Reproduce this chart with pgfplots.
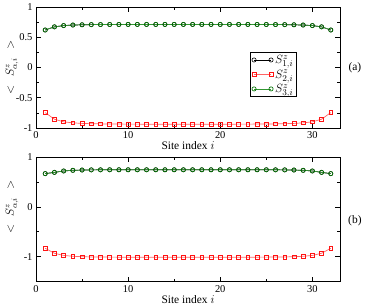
\documentclass[border=0pt]{standalone}
\usepackage{pgfplots}
\pgfplotsset{compat=1.18}
\usepackage{pgfplotstable}
\usepackage{fontspec}
\setmainfont{Liberation Serif}

\definecolor{myred}{RGB}{255,20,20}
\definecolor{mylred}{RGB}{255,100,100}
\definecolor{mygreen}{RGB}{0,115,0}
\definecolor{mylgreen}{RGB}{50,150,50}

\pgfplotstableread{
i s1 s2 s3
1 0.620 -0.745 0.620
2 0.672 -0.855 0.672
3 0.693 -0.898 0.693
4 0.702 -0.915 0.702
5 0.706 -0.924 0.706
6 0.709 -0.929 0.709
7 0.710 -0.932 0.710
8 0.711 -0.934 0.711
9 0.711 -0.935 0.711
10 0.712 -0.936 0.712
11 0.712 -0.936 0.712
12 0.712 -0.937 0.712
13 0.712 -0.937 0.712
14 0.712 -0.937 0.712
15 0.712 -0.937 0.712
16 0.712 -0.937 0.712
17 0.712 -0.937 0.712
18 0.712 -0.937 0.712
19 0.712 -0.937 0.712
20 0.712 -0.937 0.712
21 0.712 -0.937 0.712
22 0.712 -0.936 0.712
23 0.712 -0.936 0.712
24 0.711 -0.935 0.711
25 0.711 -0.934 0.711
26 0.710 -0.932 0.710
27 0.709 -0.929 0.709
28 0.706 -0.924 0.706
29 0.702 -0.915 0.702
30 0.693 -0.898 0.693
31 0.672 -0.855 0.672
32 0.620 -0.745 0.620
}\toptable

\pgfplotstableread{
i s1 s2 s3
1 0.667 -0.830 0.667
2 0.692 -0.930 0.692
3 0.720 -0.973 0.720
4 0.733 -0.990 0.733
5 0.739 -0.999 0.739
6 0.742 -1.004 0.742
7 0.743 -1.006 0.743
8 0.744 -1.007 0.744
9 0.744 -1.008 0.744
10 0.744 -1.008 0.744
11 0.744 -1.008 0.744
12 0.744 -1.008 0.744
13 0.744 -1.008 0.744
14 0.744 -1.008 0.744
15 0.744 -1.008 0.744
16 0.744 -1.008 0.744
17 0.744 -1.008 0.744
18 0.744 -1.008 0.744
19 0.744 -1.008 0.744
20 0.744 -1.008 0.744
21 0.744 -1.008 0.744
22 0.744 -1.008 0.744
23 0.744 -1.008 0.744
24 0.744 -1.008 0.744
25 0.744 -1.007 0.744
26 0.743 -1.006 0.743
27 0.742 -1.004 0.742
28 0.739 -0.999 0.739
29 0.733 -0.990 0.733
30 0.720 -0.973 0.720
31 0.692 -0.930 0.692
32 0.667 -0.830 0.667
}\bottable

\pgfplotsset{
  panel/.style={
    scale only axis, width=304bp,
    xmin=0, xmax=33, xtick={0,10,20,30}, minor x tick num=1,
    tick align=inside, major tick length=5bp, minor tick length=3bp,
    axis line style={line width=0.9pt},
    every tick/.style={black, line width=0.7pt},
    xtick pos=both, ytick pos=both,
    /pgf/number format/assume math mode=true,
    ticklabel style={font=\fontsize{10.5}{12}\selectfont},
    label style={font=\fontsize{11.5}{13}\selectfont},
    xlabel={Site index $i$},
    xlabel style={yshift=4bp},
    ylabel={$<\hspace{5bp}S^{z}_{\alpha,i}\hspace{5bp}>$},
    clip=false,
  },
  s1/.style={black, line width=0.7pt, mark=o, mark size=2.1bp, mark options={line width=0.6pt}},
  s2/.style={mylred, line width=0.7pt, mark=square, mark size=1.9bp, mark options={myred, line width=0.6pt}},
  s3/.style={mylgreen, line width=0.7pt, mark=o, mark size=2.1bp, mark options={mygreen, line width=0.65pt}},
}

\begin{document}
\begin{tikzpicture}[x=1bp,y=1bp]
\useasboundingbox (0,0) rectangle (374,-307);
\begin{axis}[panel, at={(36bp,-7bp)}, anchor=north west,
  height=121bp, ymin=-1, ymax=1,
  ytick={-1,-0.5,0,0.5,1}, yticklabels={-1,-0.5,0,0.5,1}, minor y tick num=1,
  ylabel style={at={(axis description cs:-0.079,0.5)}, anchor=center},
  legend style={at={(rel axis cs:0.704,0.63)}, anchor=north west,
    draw=black, line width=0.9pt, inner xsep=1.5bp, inner ysep=0.5bp,
    font=\fontsize{12.5}{13}\selectfont, row sep=0bp,
    /tikz/every even column/.append style={column sep=0bp}},
  legend cell align=left,
  legend image code/.code={\draw[mark repeat=2,mark phase=1,#1] plot coordinates {(0bp,0bp) (8.5bp,0bp) (17bp,0bp)};},
]
\addplot[s1] table[x=i,y=s1] {\toptable};
\addplot[s2] table[x=i,y=s2] {\toptable};
\addplot[s3] table[x=i,y=s3] {\toptable};
\legend{\rule[-5bp]{0pt}{14bp}$S^{z}_{1,i}$,\rule[-5bp]{0pt}{14bp}$S^{z}_{2,i}$,\rule[-5bp]{0pt}{14bp}$S^{z}_{3,i}$}
\node[font=\fontsize{11.5}{13}\selectfont] at (rel axis cs:1.049,0.5) {(a)};
\end{axis}
\begin{axis}[panel, at={(36bp,-157bp)}, anchor=north west,
  height=124.7bp, ymin=-1.5, ymax=1,
  ytick={-1,0,1}, minor ytick={-1.5,-0.5,0.5},
  ylabel style={at={(axis description cs:-0.079,0.6)}, anchor=center},
]
\addplot[s1] table[x=i,y=s1] {\bottable};
\addplot[s2] table[x=i,y=s2] {\bottable};
\addplot[s3] table[x=i,y=s3] {\bottable};
\node[font=\fontsize{11.5}{13}\selectfont] at (rel axis cs:1.049,0.488) {(b)};
\end{axis}
\end{tikzpicture}
\end{document}
